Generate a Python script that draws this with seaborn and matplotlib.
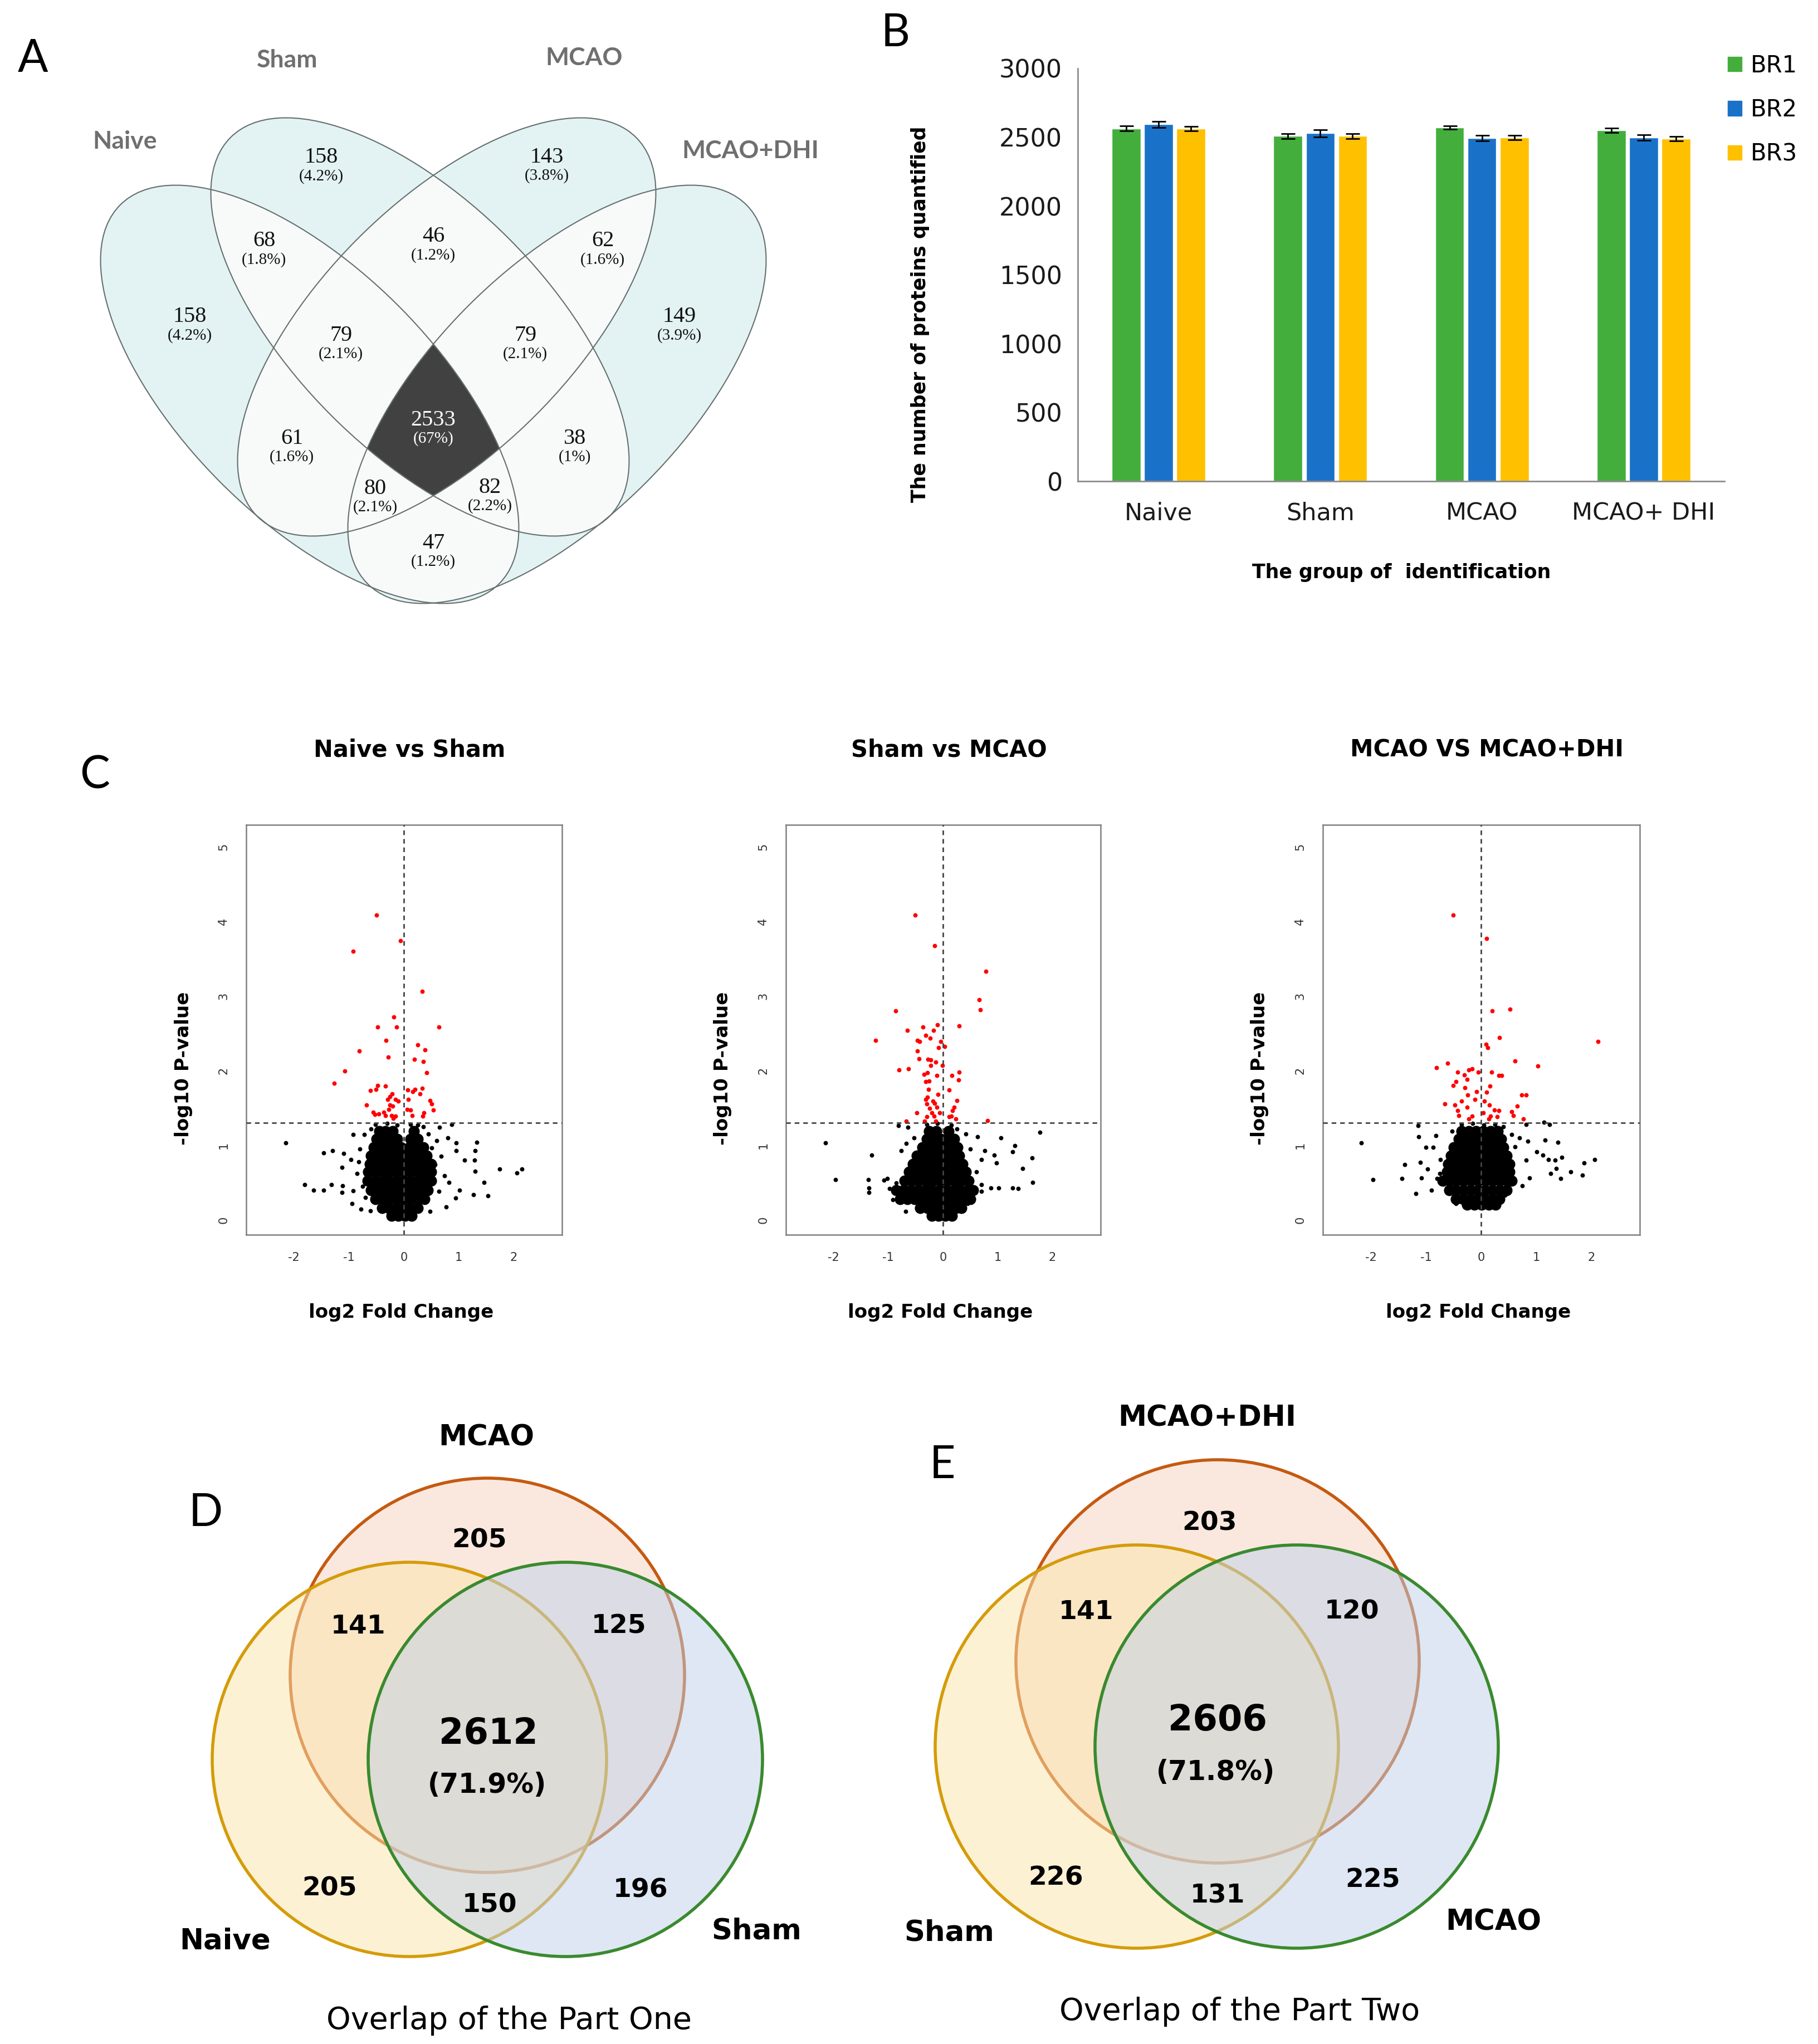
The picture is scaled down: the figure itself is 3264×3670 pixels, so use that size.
import numpy as np
import pandas as pd
import seaborn as sns
import matplotlib.pyplot as plt
from matplotlib.patches import Ellipse, Circle, Patch

sns.set_style('white')
plt.rcParams['font.family'] = ['DejaVu Sans']
plt.rcParams['axes.unicode_minus'] = False
plt.rcParams['text.color'] = 'black'
plt.rcParams['axes.labelcolor'] = 'black'

# ---------------- A: four-set overlap ----------------
quad_sets = ['Naive', 'Sham', 'MCAO', 'MCAO+DHI']
quad_counts = [158, 143, 158, 149, 68, 46, 62, 79, 79, 2533, 61, 38, 80, 82, 47]
quad_pcts = ['4.2%', '3.8%', '4.2%', '3.9%', '1.8%', '1.2%', '1.6%', '2.1%', '2.1%',
             '67%', '1.6%', '1%', '2.1%', '2.2%', '1.2%']

# ---------------- B: proteins quantified per replicate ----------------
groups = ['Naive', 'Sham', 'MCAO', 'MCAO+ DHI']
reps = ['BR1', 'BR2', 'BR3']
br1 = [2563, 2509, 2571, 2549]
br2 = [2594, 2529, 2494, 2497]
br3 = [2563, 2509, 2497, 2489]
err1 = [18, 18, 14, 16]
err2 = [22, 26, 20, 20]
err3 = [16, 18, 16, 16]

# ---------------- C: volcano plots (log2 FC, -log10 p) ----------------
ns_red = [(-0.50, 4.08), (-0.06, 3.74), (-0.92, 3.60), (0.33, 3.06), (-0.18, 2.72), (-0.48, 2.58),
          (-0.13, 2.58), (0.64, 2.58), (-0.32, 2.40), (0.25, 2.34), (0.39, 2.28), (-0.81, 2.26),
          (-0.28, 2.18), (0.19, 2.15), (0.35, 2.12), (-1.08, 1.99), (0.42, 1.97), (-1.27, 1.83),
          (-0.48, 1.80), (-0.33, 1.79), (-0.61, 1.73), (-0.51, 1.75), (0.33, 1.76), (0.07, 1.74),
          (0.16, 1.72), (0.20, 1.75), (0.29, 1.69), (-0.21, 1.69), (-0.25, 1.65), (-0.29, 1.61),
          (-0.15, 1.61), (-0.10, 1.59), (0.08, 1.61), (0.48, 1.60), (-0.68, 1.54), (-0.25, 1.54),
          (-0.20, 1.52), (0.51, 1.55), (-0.27, 1.48), (0.06, 1.48), (0.12, 1.47), (0.54, 1.47),
          (-0.37, 1.44), (-0.53, 1.41), (-0.46, 1.42), (-0.33, 1.40), (-0.22, 1.40), (-0.15, 1.39),
          (0.15, 1.40), (0.34, 1.39), (0.37, 1.43), (-0.56, 1.44), (-0.19, 1.36)]
ns_black = [(-2.15, 1.03), (0.87, 1.28), (-1.46, 0.90), (-1.30, 0.93), (-0.92, 1.14), (-0.72, 1.14),
            (-1.10, 0.89), (-0.96, 0.81), (-1.13, 0.70), (-1.81, 0.47), (-1.64, 0.40), (-1.46, 0.40),
            (-1.32, 0.47), (-1.13, 0.37), (-1.12, 0.46), (-0.94, 0.22), (-0.78, 0.14), (-0.61, 0.12),
            (-0.92, 0.39), (1.33, 1.04), (1.30, 0.93), (1.29, 0.80), (1.30, 0.65), (1.11, 0.80),
            (1.74, 0.68), (2.06, 0.63), (2.15, 0.68), (1.46, 0.50), (1.53, 0.32), (1.27, 0.34),
            (1.01, 0.40), (0.94, 0.29), (0.82, 0.50), (0.68, 0.85), (0.74, 0.59), (0.64, 0.38),
            (0.80, 1.10), (0.95, 1.03), (0.95, 0.93), (0.60, 1.06), (0.51, 0.96), (0.57, 0.74),
            (0.65, 1.24), (0.77, 0.17), (0.48, 0.11), (0.42, 0.27), (-0.80, 0.95), (-0.85, 0.62),
            (-0.75, 0.45), (-0.70, 0.30), (-0.60, 1.22), (0.35, 1.25), (0.45, 1.15), (-0.82, 0.78),
            (-0.52, 1.28), (-0.30, 1.29), (-0.12, 1.27), (0.12, 1.28), (0.25, 1.27)]
ns_core = {1.19: [-0.45, -0.33, -0.20, 0.18],
           1.08: [-0.50, -0.38, -0.25, -0.12, 0.12, 0.25],
           0.97: [-0.55, -0.42, -0.30, -0.17, -0.05, 0.10, 0.23, 0.35],
           0.86: [-0.60, -0.47, -0.34, -0.21, -0.08, 0.05, 0.18, 0.31, 0.42],
           0.75: [-0.62, -0.49, -0.36, -0.23, -0.10, 0.03, 0.16, 0.29, 0.42, 0.50],
           0.64: [-0.65, -0.52, -0.39, -0.26, -0.13, 0.00, 0.13, 0.26, 0.39, 0.50],
           0.52: [-0.66, -0.53, -0.40, -0.27, -0.14, -0.01, 0.12, 0.25, 0.38, 0.50],
           0.40: [-0.60, -0.47, -0.34, -0.21, -0.08, 0.05, 0.18, 0.31, 0.44],
           0.28: [-0.52, -0.39, -0.26, -0.13, 0.00, 0.13, 0.26, 0.38],
           0.16: [-0.40, -0.27, -0.14, -0.01, 0.12, 0.25],
           0.05: [-0.22, -0.10, 0.02, 0.14]}

sm_red = [(-0.51, 4.08), (-0.15, 3.67), (0.78, 3.33), (0.66, 2.95), (0.68, 2.81), (-0.87, 2.80),
          (0.29, 2.60), (-0.10, 2.61), (-0.65, 2.54), (-0.37, 2.58), (-0.17, 2.54), (-0.32, 2.47),
          (-1.23, 2.40), (-0.47, 2.40), (-0.43, 2.39), (-0.23, 2.43), (-0.04, 2.39), (-0.08, 2.31),
          (0.03, 2.32), (-0.47, 2.26), (-0.44, 2.16), (-0.27, 2.15), (-0.22, 2.14), (-0.13, 2.11),
          (-0.01, 2.07), (-0.22, 2.07), (-0.80, 2.01), (-0.63, 2.02), (0.30, 1.98), (-0.35, 1.95),
          (-0.29, 1.97), (-0.11, 1.93), (0.16, 1.93), (0.28, 1.87), (-0.32, 1.85), (-0.25, 1.86),
          (0.11, 1.74), (-0.26, 1.75), (-0.09, 1.68), (-0.29, 1.64), (-0.32, 1.61), (-0.18, 1.59),
          (0.25, 1.60), (-0.30, 1.55), (-0.15, 1.56), (0.20, 1.51), (-0.24, 1.49), (-0.11, 1.51),
          (-0.48, 1.43), (-0.20, 1.43), (-0.06, 1.43), (0.17, 1.46), (-0.30, 1.38), (-0.16, 1.39),
          (0.11, 1.38), (0.15, 1.39), (-0.67, 1.32), (-0.34, 1.32), (-0.13, 1.32), (0.23, 1.35),
          (0.81, 1.33)]
sm_black = [(-2.15, 1.03), (1.77, 1.17), (-1.96, 0.54), (-1.30, 0.87), (-1.36, 0.54), (-1.35, 0.43),
            (-1.35, 0.37), (-1.08, 0.53), (-0.92, 0.27), (-0.68, 0.11), (-0.81, 1.26), (-0.64, 1.24),
            (-0.53, 1.10), (-0.67, 1.02), (-0.76, 0.93), (-0.85, 0.49), (-0.91, 0.40), (-0.79, 0.33),
            (1.06, 1.10), (1.31, 0.99), (1.27, 0.91), (0.94, 0.87), (0.98, 0.76), (1.63, 0.83),
            (1.46, 0.69), (1.64, 0.50), (1.27, 0.43), (1.37, 0.42), (0.88, 0.43), (1.02, 0.43),
            (0.76, 0.93), (0.70, 0.81), (0.61, 0.64), (0.63, 1.11), (0.70, 0.47), (0.70, 0.38),
            (0.45, 0.22), (0.29, 0.12), (-1.02, 0.55), (-0.98, 0.42), (0.42, 1.15), (0.50, 0.95),
            (-0.30, 1.28), (-0.10, 1.29), (0.15, 1.27), (0.25, 1.22)]
sm_core = {1.19: [-0.25, -0.12, 0.10],
           1.08: [-0.30, -0.17, -0.04, 0.09, 0.20],
           0.97: [-0.38, -0.25, -0.12, 0.01, 0.14, 0.26],
           0.86: [-0.48, -0.35, -0.22, -0.09, 0.04, 0.17, 0.30],
           0.75: [-0.55, -0.42, -0.29, -0.16, -0.03, 0.10, 0.23, 0.36],
           0.64: [-0.62, -0.49, -0.36, -0.23, -0.10, 0.03, 0.16, 0.29, 0.42],
           0.52: [-0.70, -0.57, -0.44, -0.31, -0.18, -0.05, 0.08, 0.21, 0.34, 0.47],
           0.40: [-0.85, -0.72, -0.59, -0.46, -0.33, -0.20, -0.07, 0.06, 0.19, 0.32, 0.45, 0.55],
           0.28: [-0.78, -0.65, -0.52, -0.39, -0.26, -0.13, 0.00, 0.13, 0.26, 0.39, 0.50],
           0.16: [-0.42, -0.29, -0.16, -0.03, 0.10, 0.23, 0.34],
           0.05: [-0.20, -0.08, 0.04, 0.16]}

md_red = [(-0.51, 4.08), (0.10, 3.77), (0.20, 2.80), (0.53, 2.82), (0.33, 2.44), (2.12, 2.39),
          (0.09, 2.35), (0.12, 2.31), (0.62, 2.13), (-0.61, 2.10), (-0.81, 2.04), (1.03, 2.06),
          (-0.16, 2.02), (-0.22, 2.01), (-0.05, 1.98), (-0.42, 1.98), (0.19, 1.98), (-0.30, 1.94),
          (0.32, 1.93), (0.37, 1.93), (-0.45, 1.85), (-0.25, 1.88), (-0.51, 1.80), (0.16, 1.79),
          (-0.29, 1.77), (-0.08, 1.72), (0.10, 1.71), (-0.24, 1.67), (0.74, 1.67), (0.82, 1.67),
          (-0.11, 1.61), (-0.35, 1.59), (0.06, 1.59), (-0.66, 1.55), (-0.48, 1.54), (0.66, 1.52),
          (0.15, 1.54), (-0.25, 1.51), (0.24, 1.47), (0.32, 1.46), (0.56, 1.45), (0.59, 1.40),
          (-0.40, 1.40), (-0.16, 1.39), (0.04, 1.43), (0.17, 1.39), (0.29, 1.38), (-0.22, 1.35),
          (0.77, 1.35), (-0.42, 1.46), (0.14, 1.35)]
md_black = [(-2.17, 1.03), (-1.96, 0.54), (-1.44, 0.55), (-1.38, 0.74), (-1.18, 0.35), (-1.10, 0.77),
            (-1.13, 1.11), (-1.14, 1.26), (-1.00, 0.97), (-0.87, 0.97), (-0.82, 1.13), (-1.08, 0.56),
            (-0.97, 0.68), (-0.74, 0.81), (-0.90, 0.40), (-0.68, 0.48), (-0.53, 1.19), (1.14, 1.31),
            (1.24, 1.28), (0.82, 1.28), (1.16, 1.07), (1.39, 1.04), (1.01, 0.91), (1.12, 0.87),
            (1.22, 0.81), (1.34, 0.80), (1.47, 0.84), (1.36, 0.69), (1.26, 0.62), (1.45, 0.55),
            (1.63, 0.64), (1.84, 0.60), (1.87, 0.76), (2.06, 0.81), (0.88, 0.56), (0.75, 0.46),
            (0.82, 0.80), (0.62, 0.98), (0.56, 1.14), (0.43, 0.33), (-0.80, 0.55), (-0.75, 0.62),
            (0.70, 1.10), (0.85, 1.05), (-0.45, 0.22), (-0.35, 1.28), (-0.15, 1.29), (0.05, 1.27),
            (0.25, 1.28), (0.40, 1.25)]
md_core = {1.19: [-0.35, -0.22, -0.09, 0.04, 0.17, 0.30],
           1.08: [-0.40, -0.27, -0.14, -0.01, 0.12, 0.25, 0.36],
           0.97: [-0.50, -0.37, -0.24, -0.11, 0.02, 0.15, 0.28, 0.40],
           0.86: [-0.55, -0.42, -0.29, -0.16, -0.03, 0.10, 0.23, 0.36, 0.46],
           0.75: [-0.60, -0.47, -0.34, -0.21, -0.08, 0.05, 0.18, 0.31, 0.44, 0.52],
           0.64: [-0.62, -0.49, -0.36, -0.23, -0.10, 0.03, 0.16, 0.29, 0.42, 0.52],
           0.52: [-0.70, -0.57, -0.44, -0.31, -0.18, -0.05, 0.08, 0.21, 0.34, 0.47, 0.56],
           0.40: [-0.58, -0.45, -0.32, -0.19, -0.06, 0.07, 0.20, 0.33, 0.46],
           0.28: [-0.45, -0.32, -0.19, -0.06, 0.07, 0.20, 0.33],
           0.20: [-0.25, -0.12, 0.01, 0.14, 0.26]}

volcano_titles = ['Naive vs Sham', 'Sham vs MCAO', 'MCAO VS MCAO+DHI']

# ---------------- D / E: three-set overlaps ----------------
d_sets = ['MCAO', 'Naive', 'Sham']
d_counts = [205, 141, 125, 2612, 205, 150, 196]
d_pct = '(71.9%)'
e_sets = ['MCAO+DHI', 'Sham', 'MCAO']
e_counts = [203, 141, 120, 2606, 226, 131, 225]
e_pct = '(71.8%)'

# ======================================================================
W, H = 3264, 3670
fig = plt.figure(figsize=(W / 100, H / 100), dpi=100)


def px_axes(x0, y0, x1, y1):
    return fig.add_axes([x0 / W, 1 - y1 / H, (x1 - x0) / W, (y1 - y0) / H])


# full-figure overlay in pixel units for the venn panels and free text
ov = fig.add_axes([0, 0, 1, 1])
ov.set_xlim(0, W)
ov.set_ylim(H, 0)
ov.axis('off')

letter_kw = dict(fontsize=58, family='Lato', color='black', ha='center', va='center')
for lt, (lx, ly) in zip('ABCDE', [(59, 106), (1608, 60), (170, 1392), (369, 2717), (1692, 2631)]):
    ov.text(lx, ly, lt, **letter_kw)

# ---- A: four ellipses (Naive, Sham, MCAO, MCAO+DHI) ----
ea, eb = 481, 225
quad_centres = [(556, 708), (754, 587), (802, 587), (1000, 708)]
quad_angles = [45, 45, -45, -45]

gx = np.arange(140, 1420) + 0.5
gy = np.arange(150, 1110) + 0.5
GX, GY = np.meshgrid(gx, gy)
inside = np.zeros(GX.shape)
for (cx, cy), ang in zip(quad_centres, quad_angles):
    t = np.deg2rad(ang)
    dx, dy = GX - cx, GY - cy
    u = dx * np.cos(t) + dy * np.sin(t)
    v = -dx * np.sin(t) + dy * np.cos(t)
    inside += ((u / ea) ** 2 + (v / eb) ** 2 <= 1)
img = np.zeros(GX.shape + (4,))
img[inside == 1] = [0.894, 0.953, 0.953, 1]
img[(inside == 2) | (inside == 3)] = [0.973, 0.984, 0.984, 1]
img[inside == 4] = [0.255, 0.255, 0.255, 1]
ov.imshow(img, extent=(140, 1420, 1110, 150), interpolation='nearest', zorder=0)
ov.set_xlim(0, W)
ov.set_ylim(H, 0)
ov.set_aspect('auto')

for (cx, cy), ang in zip(quad_centres, quad_angles):
    ov.add_patch(Ellipse((cx, cy), 2 * ea, 2 * eb, angle=ang, fill=False,
                         ec='#66706f', lw=1.5, zorder=2))

quad_pos = [(577, 283), (982, 282), (341, 569), (1220, 569), (474, 433), (778, 425), (1082, 433),
            (612, 602), (943, 602), (778, 754), (524, 787), (1032, 787), (674, 877), (880, 875),
            (778, 975)]
for n, p, (x, y) in zip(quad_counts, quad_pcts, quad_pos):
    c = 'white' if n == max(quad_counts) else '#111111'
    ov.text(x, y, str(n), family='Liberation Serif', fontsize=29, color=c,
            ha='center', va='center', zorder=3)
    ov.text(x, y + 34, '(' + p + ')', family='Liberation Serif', fontsize=21, color=c,
            ha='center', va='center', zorder=3)

quad_label_pos = [(224, 254), (516, 108), (1049, 104), (1347, 271)]
for s, (x, y) in zip(quad_sets, quad_label_pos):
    ov.text(x, y, s, family='Lato', fontweight='bold', fontsize=32, color='#6f6f6f',
            ha='center', va='center')

# ---- B: bar chart ----
dfB = pd.DataFrame({'group': groups * 3,
                    'rep': [r for r in reps for _ in groups],
                    'count': br1 + br2 + br3})
bar_colors = ['#43ae3c', '#1a72c8', '#ffc000']
axB = px_axes(1935, 123, 3096, 864)
sns.barplot(data=dfB, x='group', y='count', hue='rep', palette=bar_colors, width=0.6,
            gap=0.11, errorbar=None, saturation=1, legend=False, ax=axB)
for cont, errs in zip(axB.containers, [err1, err2, err3]):
    for bar, e in zip(cont, errs):
        axB.errorbar(bar.get_x() + bar.get_width() / 2, bar.get_height(), yerr=e,
                     fmt='none', ecolor='black', elinewidth=2, capsize=9, capthick=2)
axB.set_ylim(0, 3000)
axB.set_xlim(-0.5, 3.5)
axB.set_yticks(range(0, 3001, 500))
axB.set_xticks([-0.5, 0.5, 1.5, 2.5, 3.5])
axB.set_xticklabels([])
axB.set_xticks(range(len(groups)), minor=True)
axB.set_xticklabels(groups, minor=True)
axB.tick_params(axis='x', which='major', direction='out', length=22, width=2, color='#8c8c8c')
axB.tick_params(axis='x', which='minor', length=0, pad=26, labelsize=31, labelcolor='#1a1a1a')
axB.tick_params(axis='y', direction='out', length=10, width=2, color='#8c8c8c',
                labelsize=32, labelcolor='#1a1a1a', pad=10)
for side in ['top', 'right']:
    axB.spines[side].set_visible(False)
for side in ['left', 'bottom']:
    axB.spines[side].set_color('#8c8c8c')
    axB.spines[side].set_linewidth(2)
axB.set_ylabel('The number of proteins quantified', fontsize=25, fontweight='bold')
axB.yaxis.set_label_coords(-0.229, 0.405)
axB.set_xlabel('The group of  identification', fontsize=25, fontweight='bold')
axB.xaxis.set_label_coords(0.501, -0.198)
fig.legend(handles=[Patch(color=c, label=r) for c, r in zip(bar_colors, reps)],
           loc='center left', bbox_to_anchor=(3064 / W, 1 - 197 / H), frameon=False,
           fontsize=30, handlelength=0.6, handleheight=0.6, handletextpad=0.4,
           labelspacing=0.9)

# ---- C: volcano plots ----
volc_boxes = [(442, 1481, 1009, 2217), (1411, 1481, 1976, 2217), (2375, 1481, 2944, 2217)]
volc_data = [(ns_black, ns_red, ns_core), (sm_black, sm_red, sm_core), (md_black, md_red, md_core)]
for (x0, y0, x1, y1), (blk, red, core), ttl in zip(volc_boxes, volc_data, volcano_titles):
    ax = px_axes(x0, y0, x1, y1)
    cx = [x for y, xs in core.items() for x in xs]
    cy = [y for y, xs in core.items() for x in xs]
    sns.scatterplot(x=cx, y=cy, color='black', s=210, linewidth=0, ax=ax)
    sns.scatterplot(x=[p[0] for p in blk], y=[p[1] for p in blk], color='black', s=32,
                    linewidth=0, ax=ax)
    sns.scatterplot(x=[p[0] for p in red], y=[p[1] for p in red], color='#ff0000', s=32,
                    linewidth=0, ax=ax)
    ax.axhline(1.3, color='#444444', lw=2, ls=(0, (3, 2.5)), zorder=4)
    ax.axvline(0, color='#444444', lw=2, ls=(0, (3, 2.5)), zorder=4)
    ax.set_xlim(-2.87, 2.88)
    ax.set_ylim(-0.2, 5.29)
    ax.set_xticks([-2, -1, 0, 1, 2])
    ax.set_yticks([0, 1, 2, 3, 4, 5])
    ax.tick_params(direction='out', length=8, width=1.3, color='#555555', labelsize=15,
                   labelcolor='#333333', pad=14)
    ax.tick_params(axis='y', labelrotation=90)
    for lab in ax.get_yticklabels():
        lab.set_va('center')
    for sp in ax.spines.values():
        sp.set_visible(True)
        sp.set_color('#808080')
        sp.set_linewidth(1.8)
    mid = (x0 + x1) / 2
    ov.text(mid + 10, 1346, ttl, fontsize=30, fontweight='bold', ha='center', va='center')
    ov.text(mid - 5, 2356, 'log2 Fold Change', fontsize=24.5, fontweight='bold',
            ha='center', va='center')
    ov.text(x0 - 113, 1918, '-log10 P-value', fontsize=24.5, fontweight='bold', rotation=90,
            ha='center', va='center')

# ---- D / E: three circles ----
circ_face = [(0.969, 0.827, 0.757, 0.5), (0.992, 0.898, 0.671, 0.5), (0.749, 0.82, 0.914, 0.5)]
circ_edge = ['#c55a11', '#d49c0a', '#3a8a2e']


def tri_venn(centres, r, sets, counts, pct, count_pos, pct_pos, set_pos, title, title_pos):
    for (cx, cy), fc, ec in zip(centres, circ_face, circ_edge):
        ov.add_patch(Circle((cx, cy), r, fc=fc, ec=ec, lw=4))
    for n, (x, y) in zip(counts, count_pos):
        big = n == max(counts)
        ov.text(x, y, str(n), fontsize=46 if big else 34, fontweight='bold',
                ha='center', va='center')
    ov.text(pct_pos[0], pct_pos[1], pct, fontsize=35, fontweight='bold', ha='center', va='center')
    for s, (x, y) in zip(sets, set_pos):
        ov.text(x, y, s, fontsize=37, fontweight='bold', ha='center', va='center')
    ov.text(title_pos[0], title_pos[1], title, fontsize=40, ha='center', va='center')


tri_venn([(875, 3008), (735, 3159), (1015, 3159)], 354, d_sets, d_counts, d_pct,
         [(861, 2766), (643, 2920), (1111, 2920), (877, 3113), (592, 3391), (879, 3421),
          (1150, 3394)],
         (875, 3205), [(873, 2581), (404, 3485), (1358, 3467)],
         'Overlap of the Part One', (914, 3628))
tri_venn([(2186, 2983), (2041, 3136), (2328, 3136)], 362, e_sets, e_counts, e_pct,
         [(2172, 2735), (1950, 2894), (2427, 2894), (2186, 3089), (1896, 3372), (2186, 3404),
          (2465, 3376)],
         (2183, 3182), [(2167, 2546), (1704, 3470), (2681, 3451)],
         'Overlap of the Part Two', (2226, 3612))

fig.savefig('out.png', dpi=100)
